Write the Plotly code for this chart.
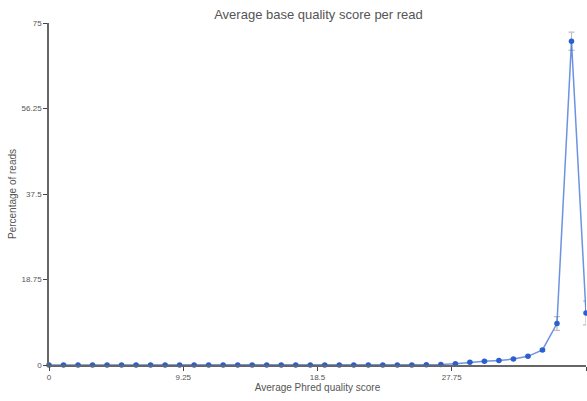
import plotly.graph_objects as go

scores = list(range(0, 38))
pct = [0.0]*25 + [0.02, 0.04, 0.1, 0.3, 0.6, 0.8, 1.0, 1.3, 1.9, 3.3, 9.1, 71.0, 11.4]
err = [0.0]*25 + [0.0, 0.0, 0.0, 0.05, 0.08, 0.1, 0.1, 0.12, 0.15, 0.25, 1.5, 2.0, 2.6]

x_ticks = [0, 9.25, 18.5, 27.75, 37]
y_ticks = [0, 18.75, 37.5, 56.25, 75]

FONT = "Liberation Sans, Arial, sans-serif"

fig = go.Figure()
fig.add_trace(go.Scatter(
    x=scores, y=pct, mode="lines+markers",
    line=dict(color="rgba(60,110,215,0.75)", width=1.5),
    marker=dict(color="#2b5fd0", size=5.5),
    error_y=dict(type="data", array=err, color="rgba(150,150,150,0.6)", thickness=1.2, width=3),
    cliponaxis=False,
    showlegend=False,
    hoverinfo="skip",
))

axis_font = dict(family=FONT, size=8, color="#555")
fig.update_layout(
    width=587, height=401,
    margin=dict(l=49, r=1, t=23, b=36),
    paper_bgcolor="white", plot_bgcolor="white",
    title=dict(text="Average base quality score per read", x=318.5/587, xanchor="center",
               y=1 - 14/401, yref="container", yanchor="middle",
               font=dict(family=FONT, size=13, color="#555")),
    font=dict(family=FONT, color="#555"),
)
fig.update_xaxes(
    range=[0, 37], tickvals=x_ticks, ticktext=["0", "9.25", "18.5", "27.75", "37"],
    showgrid=False, zeroline=False, showline=True, linecolor="#666", linewidth=1.5,
    ticks="outside", ticklen=4, tickcolor="#444", tickfont=axis_font,
    title=dict(text="Average Phred quality score", standoff=2,
               font=dict(family=FONT, size=10, color="#555")),
    automargin=False,
)
fig.update_yaxes(
    range=[0, 75], tickvals=y_ticks, ticktext=["0", "18.75", "37.5", "56.25", "75"],
    showgrid=False, zeroline=False, showline=True, linecolor="#666", linewidth=1.5,
    ticks="outside", ticklen=4, tickcolor="#444", tickfont=axis_font,
    title=dict(text="Percentage of reads", standoff=3,
               font=dict(family=FONT, size=10, color="#555")),
    automargin=False,
)
fig.write_html(
    "out.html",
    config={"displayModeBar": False},
    post_script="document.body.style.margin='0';document.body.style.overflow='hidden';",
)
